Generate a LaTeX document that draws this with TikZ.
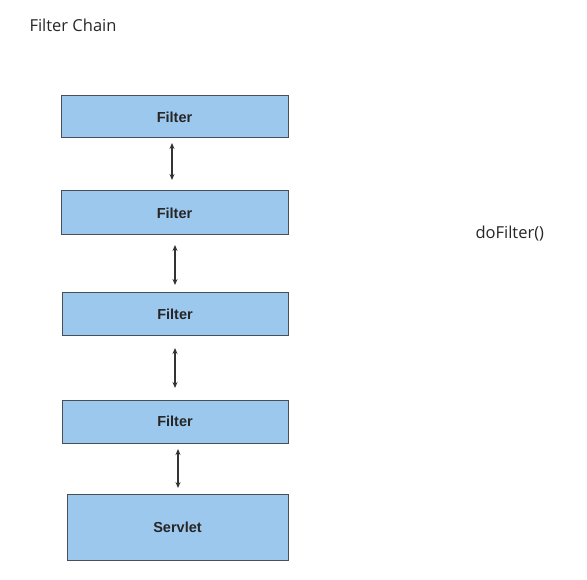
\documentclass[tikz,border=0pt]{standalone}
\usepackage{fontspec}
\setmainfont{Liberation Sans}
\newfontfamily\handfont{Open Sans}
\usetikzlibrary{arrows.meta}
\definecolor{boxfill}{HTML}{9DC8EE}
\definecolor{boxline}{HTML}{4A4F57}
\definecolor{arrowcol}{HTML}{333333}
\tikzset{
  fbox/.style={draw=boxline, line width=1pt, fill=boxfill, font=\bfseries\fontsize{14.5}{16}\selectfont, text=black!85},
  link/.style={draw=arrowcol, line width=1.2pt, {Stealth[length=6pt,width=5pt]}-{Stealth[length=6pt,width=5pt]}},
  hand/.style={font=\handfont\fontsize{16.5}{18}\selectfont, text=black!85, anchor=west}
}
\begin{document}
\begin{tikzpicture}[x=1pt,y=-1pt]
\useasboundingbox (0,0) rectangle (587,580);
\node[hand] (title) at (26,25) {Filter Chain};
\node[hand] (dof) at (472,234) {doFilter()};
\node[fbox, minimum width=227pt, minimum height=42pt] (f1) at (174.5,117) {Filter};
\node[fbox, minimum width=227pt, minimum height=44pt] (f2) at (174.5,213) {Filter};
\node[fbox, minimum width=226pt, minimum height=43pt] (f3) at (175,314.5) {Filter};
\node[fbox, minimum width=226pt, minimum height=43pt] (f4) at (175,421.5) {Filter};
\node[fbox, minimum width=221pt, minimum height=66pt] (sv) at (177.5,527) {Servlet};
\coordinate (a1s) at (172,143); \coordinate (a1e) at (172,180);
\coordinate (a2s) at (175,245); \coordinate (a2e) at (175,285);
\coordinate (a3s) at (175,348); \coordinate (a3e) at (175,388);
\coordinate (a4s) at (178,449); \coordinate (a4e) at (178,488);
\draw[link] (a1s) -- (a1e);
\draw[link] (a2s) -- (a2e);
\draw[link] (a3s) -- (a3e);
\draw[link] (a4s) -- (a4e);
\end{tikzpicture}
\end{document}
